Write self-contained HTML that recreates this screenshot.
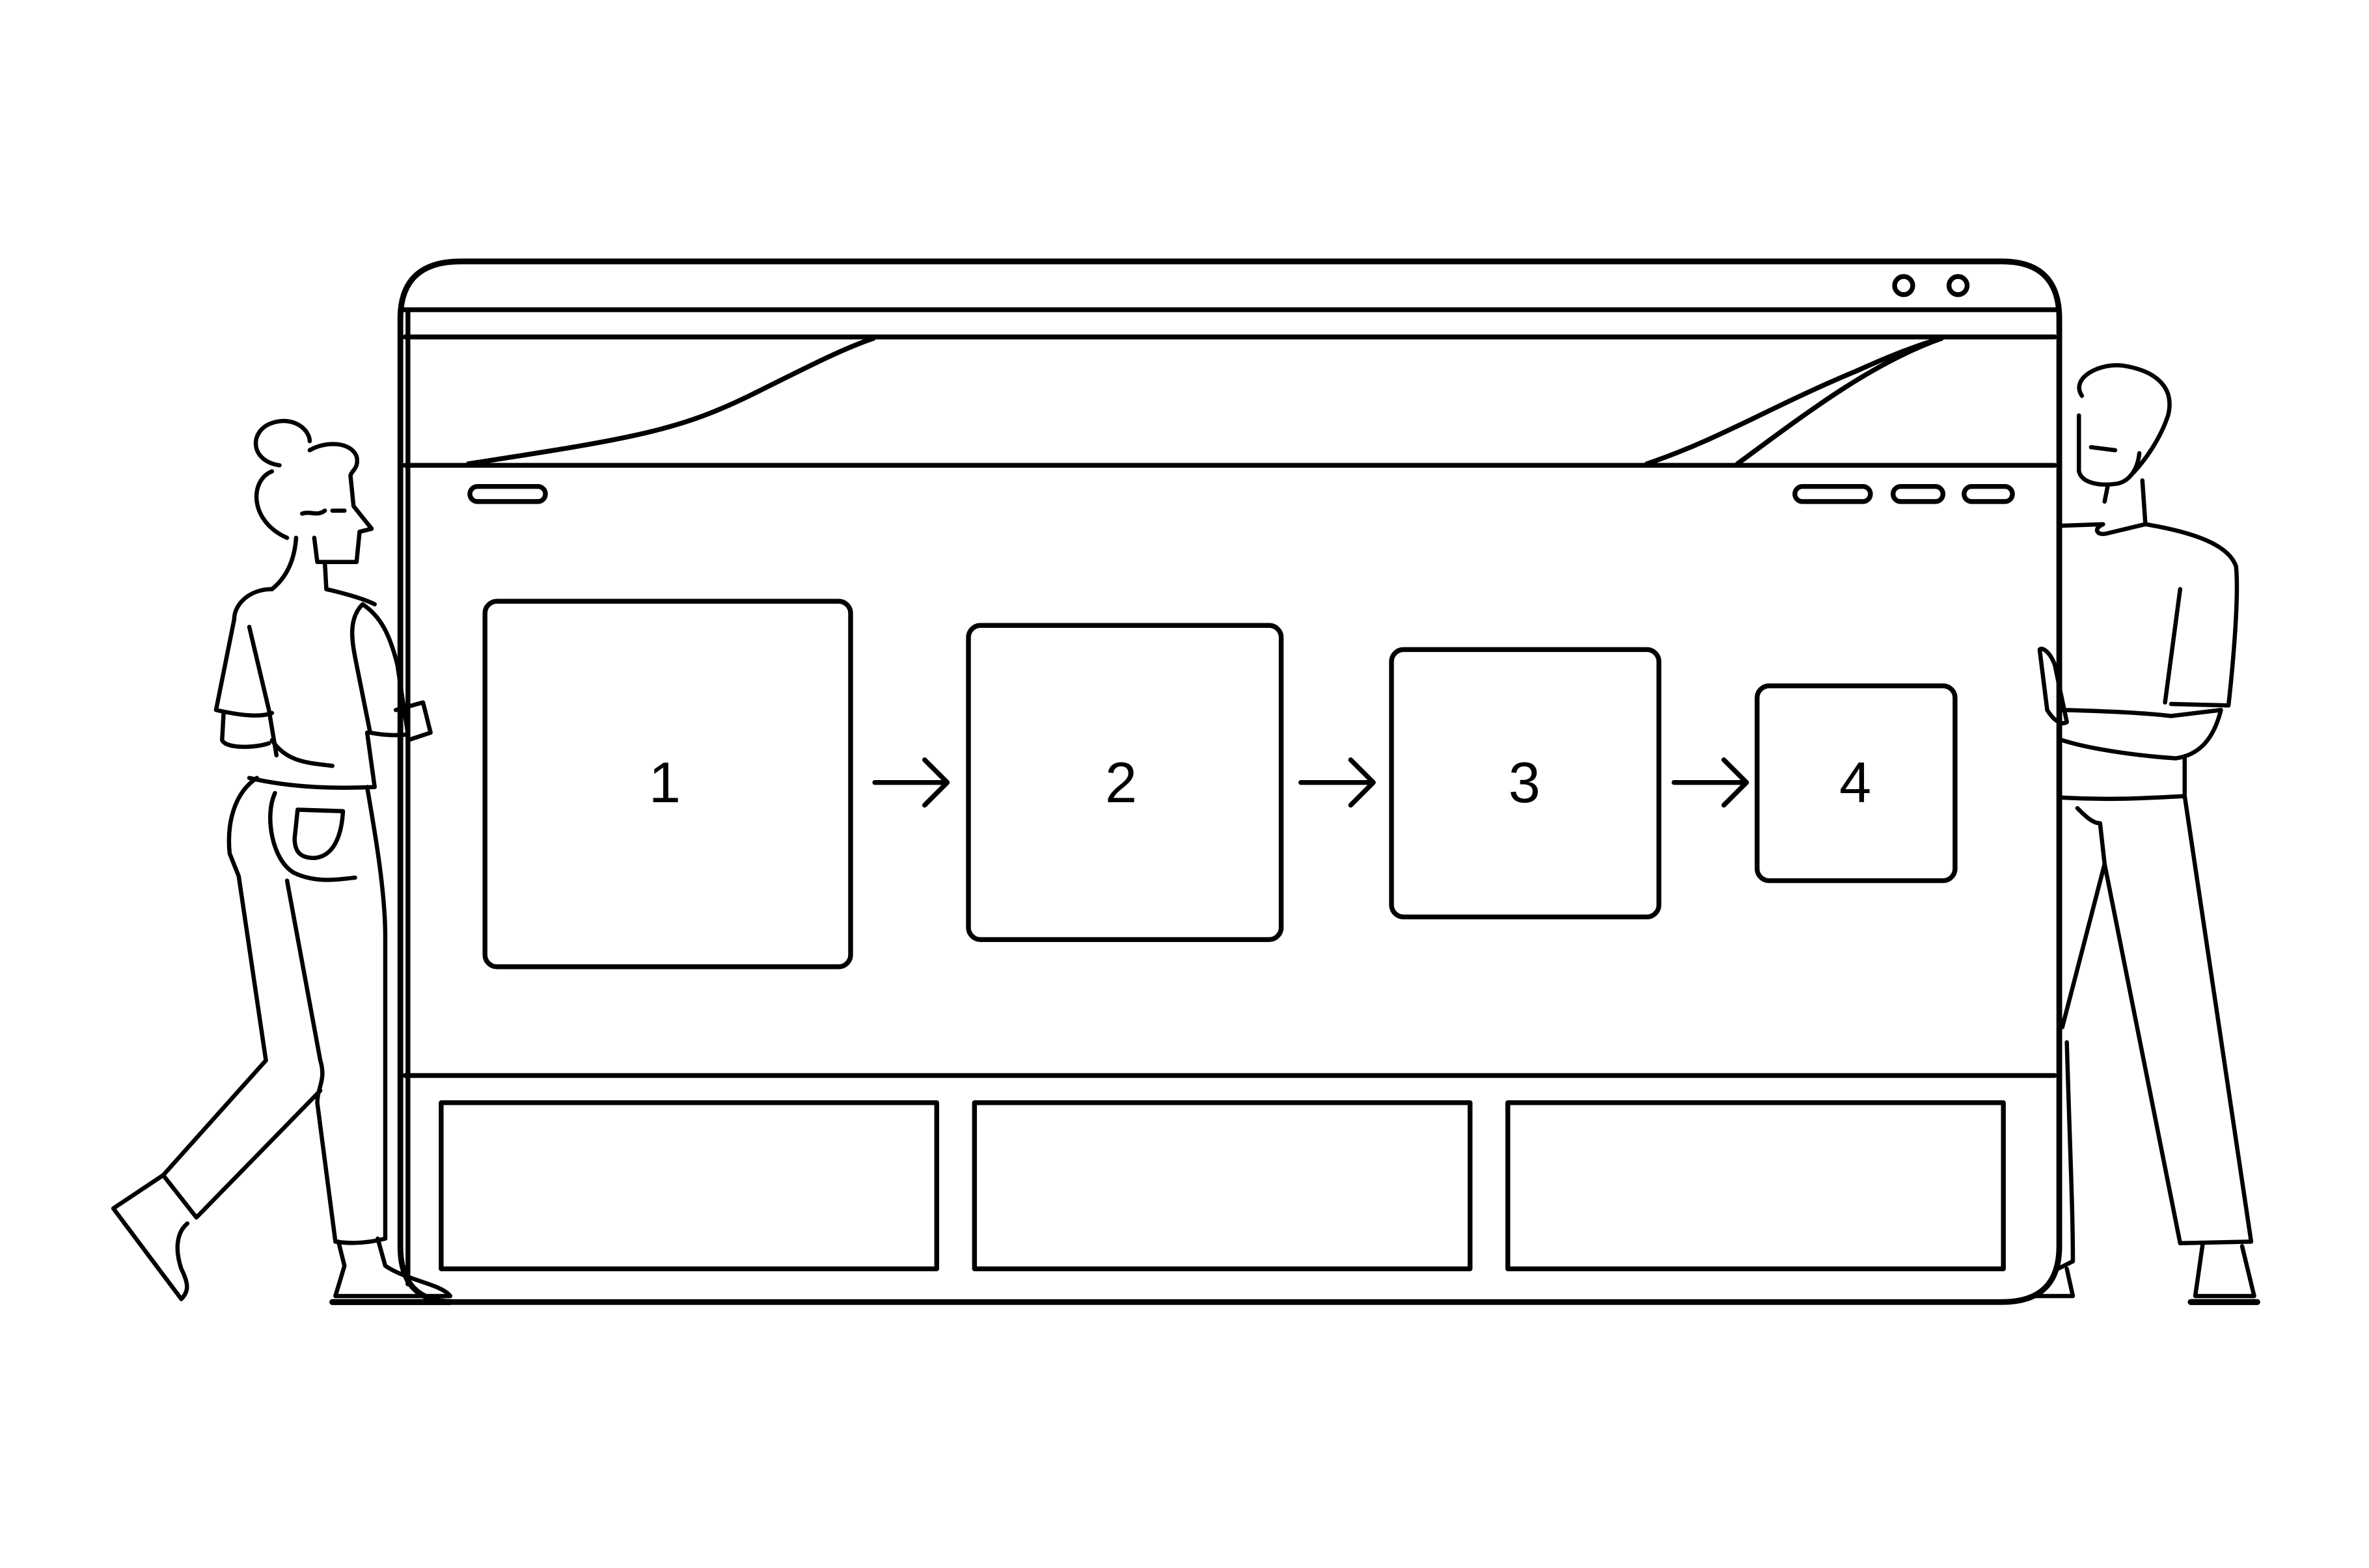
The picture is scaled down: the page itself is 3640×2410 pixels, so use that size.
<!DOCTYPE html>
<html><head><meta charset="utf-8"><style>
html,body{margin:0;padding:0;background:#fff}
svg{display:block}
</style></head><body>
<svg width="3640" height="2410" viewBox="0 0 1568 1038" xmlns="http://www.w3.org/2000/svg" fill="none" stroke="#000" stroke-width="3.2" stroke-linecap="round" stroke-linejoin="round">
<rect x="0" y="0" width="1568" height="1038" fill="#fff" stroke="none"/>
<!-- browser frame -->
<path d="M305 173 H1325 Q1363 173 1363 211 V825 Q1363 862 1325 862 H300 Q265 862 265 825 V211 Q265 173 305 173 Z" stroke-width="3.8"/>
<line x1="270" y1="205" x2="270" y2="850"/>
<line x1="265" y1="205" x2="1363" y2="205"/>
<line x1="268" y1="223" x2="1360" y2="223"/>
<line x1="268" y1="308" x2="1360" y2="308"/>
<line x1="268" y1="712" x2="1360" y2="712"/>
<circle cx="1260" cy="189" r="6"/>
<circle cx="1296" cy="189" r="6"/>
<!-- header curves -->
<path d="M310 307 C420 290 450 285 500 260 C540 240 560 230 578 224"/>
<path d="M1090 307 C1140 290 1170 270 1230 245 C1250 236 1270 228 1285 224"/>
<path d="M1150 307 C1200 270 1240 240 1285 224"/>
<!-- pills -->
<rect x="311" y="322" width="50" height="10" rx="5"/>
<rect x="1188" y="322" width="50" height="10" rx="5"/>
<rect x="1253" y="322" width="33" height="10" rx="5"/>
<rect x="1300" y="322" width="32" height="10" rx="5"/>
<!-- step boxes -->
<rect x="321" y="398" width="242" height="242" rx="8"/>
<rect x="641" y="414" width="207" height="208" rx="8"/>
<rect x="921" y="430" width="177" height="177" rx="8"/>
<rect x="1163" y="454" width="131" height="129" rx="8"/>
<g stroke="none" fill="#000" font-family="Liberation Sans, sans-serif" font-size="38" text-anchor="middle">
<text x="440" y="531">1</text>
<text x="742" y="531">2</text>
<text x="1009" y="531">3</text>
<text x="1228" y="531">4</text>
</g>
<!-- arrows -->
<path d="M579 518 H627 M612 503 L627 518 L612 533"/>
<path d="M861 518 H909 M894 503 L909 518 L894 533"/>
<path d="M1108 518 H1156 M1141 503 L1156 518 L1141 533"/>
<!-- bottom boxes -->
<rect x="292" y="730" width="328" height="110"/>
<rect x="645" y="730" width="328" height="110"/>
<rect x="998" y="730" width="328" height="110"/>
<!-- woman -->
<g stroke-width="2.8">
<path d="M185 308 C165 305 165 285 180 280 C195 275 205 285 205 292"/>
<path d="M205 298 C215 292 232 292 236 302 C238 310 232 312 232 315"/>
<path d="M180 312 C165 318 165 345 190 356"/>
<path d="M232 315 L234 335 L246 350 L238 352 L236 372 L210 372 L208 356"/>
<path d="M200 340 C205 338 210 342 215 338"/>
<path d="M220 338 L228 338"/>
<path d="M196 356 C195 370 190 382 180 390"/>
<path d="M215 372 L216 390 C225 392 240 396 248 400"/>
<path d="M180 390 C165 390 155 400 155 410 L143 470 C165 475 175 474 180 472"/>
<path d="M165 415 L178 470 L183 500"/>
<path d="M148 472 L147 490 C150 496 170 495 178 492"/>
<path d="M240 400 C230 410 233 425 236 440 L245 485 C255 487 265 487 270 486 L263 440 C258 420 252 408 240 400"/>
<path d="M262 470 L280 465 L285 485 L270 490"/>
<path d="M180 490 C190 505 205 505 220 507"/>
<path d="M165 515 C195 522 225 522 248 521 L243 485"/>
<path d="M170 515 C155 525 150 545 152 565 L158 580 L176 702 L108 778 L130 806 L212 722"/>
<path d="M182 525 C175 540 180 570 195 578 C210 585 225 582 235 581"/>
<path d="M197 536 L227 537 C226 555 220 567 208 568 C200 568 195 565 195 555 Z"/>
<path d="M190 583 L212 702 C216 715 210 720 210 730 L222 822 C235 824 247 822 255 820 L255 620 C255 590 248 550 243 521"/>
<path d="M108 778 L75 800 L120 860 C125 855 125 850 120 840 C115 825 118 815 124 810"/>
<path d="M224 822 L228 838 L222 858 L298 858 C292 850 270 848 255 838 L250 820"/>
<line x1="220" y1="862" x2="298" y2="862" stroke-width="4"/>
</g>
<!-- man -->
<g stroke-width="2.8">
<path d="M1378 262 C1370 250 1390 240 1405 242 C1425 245 1440 255 1435 275 C1430 290 1420 305 1410 315"/>
<path d="M1376 275 L1376 312 C1378 320 1390 322 1402 320 C1410 318 1415 310 1416 300"/>
<path d="M1384 296 L1400 298"/>
<path d="M1395 322 L1393 332 M1418 318 L1420 347"/>
<path d="M1365 348 L1392 347 C1385 350 1388 355 1395 353 L1420 347 C1450 352 1475 360 1480 375 C1482 395 1478 440 1475 467 L1437 466"/>
<path d="M1443 390 L1433 465"/>
<path d="M1365 470 C1400 471 1420 472 1437 474 L1470 470 C1465 490 1455 500 1440 502 C1410 500 1380 495 1365 490"/>
<path d="M1350 430 L1355 470 C1360 478 1365 480 1368 478 L1360 440 C1357 432 1352 428 1350 430"/>
<path d="M1365 528 C1400 530 1425 528 1446 527 L1446 502"/>
<path d="M1375 535 C1380 540 1385 545 1390 545 L1393 572"/>
<path d="M1365 680 L1393 572 L1443 823 L1490 822 L1446 527"/>
<path d="M1368 690 C1370 760 1372 800 1372 835 L1362 840"/>
<path d="M1458 823 L1453 858 L1492 858 L1484 825"/>
<line x1="1450" y1="862" x2="1494" y2="862" stroke-width="4"/>
<path d="M1345 858 L1372 858 L1368 840"/>
</g>
</svg>
</body></html>
